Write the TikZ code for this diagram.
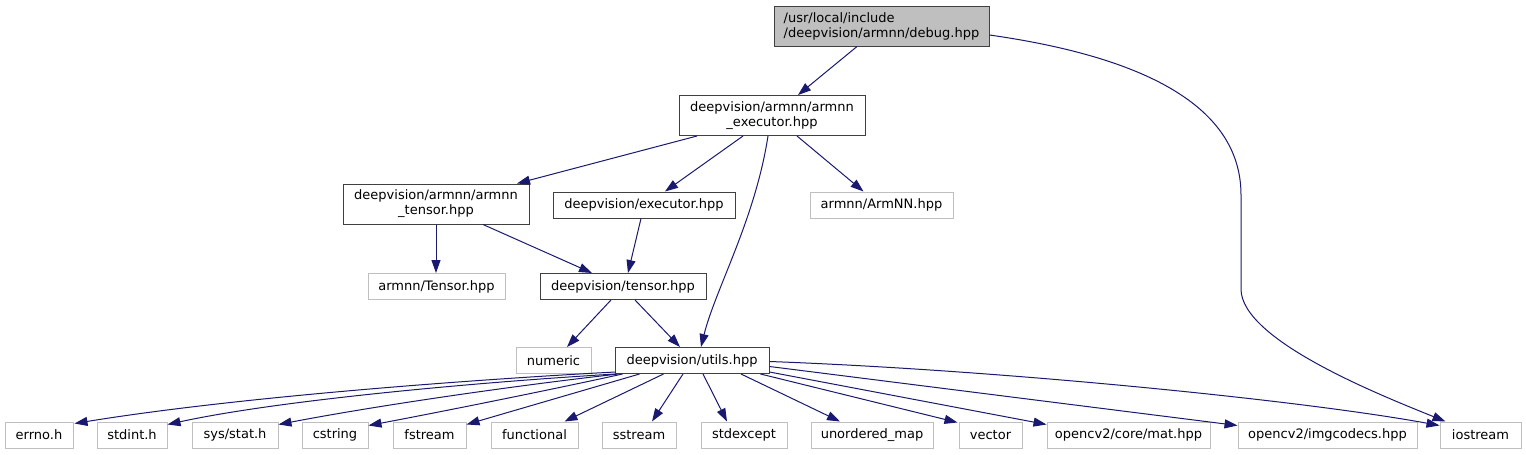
\documentclass[tikz,border=0pt]{standalone}
\usepackage{fontspec}
\setmainfont{DejaVu Sans}
\usepackage{xcolor}
\usepackage{tikz}
\usetikzlibrary{arrows.meta,positioning}

\definecolor{edgeblue}{HTML}{191970}
\definecolor{boxline}{HTML}{404040}
\definecolor{greyline}{HTML}{BFBFBF}

\begin{document}
\begin{tikzpicture}[
    x=1pt, y=-1pt,
    file/.style={rectangle, draw=boxline, line width=1pt, fill=white, minimum height=26pt, inner sep=0pt, align=center, font=\fontsize{13}{15}\selectfont},
    twoline/.style={file, minimum height=40pt},
    sysfile/.style={file, draw=greyline},
    rootfile/.style={twoline, fill=greyline, align=left},
    arrow/.style={-{Triangle[length=13pt,width=9pt]}, draw=edgeblue, line width=1pt}
]

\fill[white] (0,0) rectangle (1526,455);

% Root file
\node[rootfile, minimum width=215pt] (debug) at (881.5,26) {/usr/local/include\\/deepvision/armnn/debug.hpp};

% Second level
\node[twoline, minimum width=186pt] (armexec) at (772,115.5) {deepvision/armnn/armnn\\\_executor.hpp};

% Third level
\node[twoline, minimum width=186pt] (armtensor) at (436,204) {deepvision/armnn/armnn\\\_tensor.hpp};
\node[file, minimum width=182pt] (executor) at (644,205) {deepvision/executor.hpp};
\node[sysfile, minimum width=143pt] (armnnhpp) at (881.5,205) {armnn/ArmNN.hpp};

% Fourth level
\node[sysfile, minimum width=137pt] (tensorhpp) at (436.5,286.5) {armnn/Tensor.hpp};
\node[file, minimum width=166pt] (tensor) at (623,286.5) {deepvision/tensor.hpp};

% Fifth level
\node[sysfile, minimum width=75pt] (numeric) at (553.5,360.5) {numeric};
\node[file, minimum width=154pt] (utils) at (692,360.5) {deepvision/utils.hpp};

% Standard headers
\node[sysfile, minimum width=68pt] (errno) at (39,435) {errno.h};
\node[sysfile, minimum width=70pt] (stdint) at (132,435) {stdint.h};
\node[sysfile, minimum width=86pt] (sysstat) at (235,435) {sys/stat.h};
\node[sysfile, minimum width=66pt] (cstring) at (335,435) {cstring};
\node[sysfile, minimum width=73pt] (fstream) at (429.5,435) {fstream};
\node[sysfile, minimum width=87pt] (functional) at (534.5,435) {functional};
\node[sysfile, minimum width=74pt] (sstream) at (639,435) {sstream};
\node[sysfile, minimum width=86pt] (stdexcept) at (744,435) {stdexcept};
\node[sysfile, minimum width=122pt] (umap) at (872,435) {unordered\_map};
\node[sysfile, minimum width=63pt] (vector) at (990.5,435) {vector};
\node[sysfile, minimum width=163pt] (mat) at (1128.5,435) {opencv2/core/mat.hpp};
\node[sysfile, minimum width=179pt] (imgcodecs) at (1327.5,435) {opencv2/imgcodecs.hpp};
\node[sysfile, minimum width=81pt] (iostream) at (1480.5,435) {iostream};

% Arrows
\draw[arrow] ([xshift=-24.5pt]debug.south) -- ([xshift=26pt]armexec.north);
\draw[arrow] ([yshift=-9pt]debug.east) .. controls (1130,55) and (1241,100) .. (1241,195) -- (1241,289) .. controls (1241,340) and (1380,395) .. ([xshift=6pt]iostream.north west);
\draw[arrow] ([xshift=-75pt]armexec.south) -- ([xshift=81pt]armtensor.north);
\draw[arrow] ([xshift=-29pt]armexec.south) -- ([xshift=21pt]executor.north);
\draw[arrow] ([xshift=25pt]armexec.south) -- ([xshift=-18pt]armnnhpp.north);
\draw[arrow] ([xshift=-4pt]armexec.south) .. controls (755,220) and (715,290) .. ([xshift=9pt]utils.north);
\draw[arrow] (armtensor.south) -- (armtensor.south |- tensorhpp.north);
\draw[arrow] ([xshift=47pt]armtensor.south) -- ([xshift=-31pt]tensor.north);
\draw[arrow] ([xshift=-3pt]executor.south) -- ([xshift=5pt]tensor.north);
\draw[arrow] ([xshift=-12pt]tensor.south) -- ([xshift=13.5pt]numeric.north);
\draw[arrow] ([xshift=12pt]tensor.south) -- ([xshift=-12pt]utils.north);

% utils.hpp includes
\draw[arrow] ([xshift=1pt,yshift=2pt]utils.south west) .. controls (500,378) and (250,395) .. ([xshift=1pt,yshift=-2pt]errno.north east);
\draw[arrow] ([xshift=1pt]utils.south west) .. controls (480,382) and (280,400) .. ([yshift=-3pt]stdint.north east);
\draw[arrow] ([xshift=4pt]utils.south west) .. controls (520,385) and (380,405) .. ([yshift=-3pt]sysstat.north east);
\draw[arrow] ([xshift=8pt]utils.south west) .. controls (550,390) and (440,412) .. ([yshift=-4pt]cstring.north east);
\draw[arrow] ([xshift=25pt]utils.south west) -- ([yshift=-3pt]fstream.north east);
\draw[arrow] ([xshift=49pt]utils.south west) -- ([xshift=30pt]functional.north);
\draw[arrow] ([xshift=-9pt]utils.south) -- ([xshift=13pt]sstream.north);
\draw[arrow] ([xshift=11pt]utils.south) -- ([xshift=-17pt]stdexcept.north);
\draw[arrow] ([xshift=49pt]utils.south) -- ([xshift=-32pt]umap.north);
\draw[arrow] ([xshift=-9pt]utils.south east) -- ([xshift=-1pt,yshift=-1pt]vector.north west);
\draw[arrow] ([yshift=2pt]utils.south east) -- ([yshift=-3pt]mat.north west);
\draw[arrow] ([yshift=-6pt]utils.east) -- ([yshift=-4pt]imgcodecs.north west);
\draw[arrow] ([yshift=-1pt]utils.east) .. controls (1000,370) and (1300,400) .. ([yshift=-4pt]iostream.north west);

\end{tikzpicture}
\end{document}
